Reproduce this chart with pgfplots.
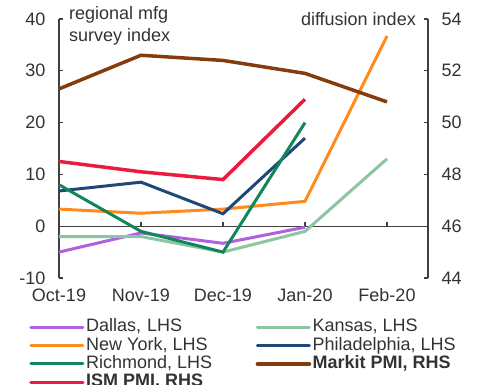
\documentclass[border=0pt]{standalone}
\usepackage{fontspec}
\setmainfont{Liberation Sans}
\usepackage{pgfplots}
\pgfplotsset{compat=1.18}
\definecolor{cDal}{HTML}{B061DD}
\definecolor{cKan}{HTML}{8CC5A2}
\definecolor{cNY}{HTML}{FF8B1C}
\definecolor{cPhi}{HTML}{1E4878}
\definecolor{cRic}{HTML}{10865A}
\definecolor{cMar}{HTML}{843C0C}
\definecolor{cISM}{HTML}{EA1B3C}
\definecolor{axgray}{HTML}{404040}
\definecolor{txt}{HTML}{333333}
\begin{document}
\begin{tikzpicture}
\pgfplotsset{
  common/.style={
    scale only axis, width=369pt, height=259pt,
    xmin=0, xmax=4.5,
    axis line style={axgray, line width=1.3pt},
    tick style={axgray, line width=1.3pt},
    major tick length=4.5pt,
    tick align=inside,
    ticklabel style={font=\fontsize{18}{20}\selectfont, text=txt},
    /pgf/number format/assume math mode=true,
  }
}
\begin{axis}[common, name=ax,
  ymin=-10, ymax=40, ytick={-10,0,10,20,30,40},
  axis y line*=left,
  axis x line*=bottom,
  x axis line style={draw=none},
  xtick={0,1,2,3,4},
  xticklabels={Oct-19,Nov-19,Dec-19,Jan-20,Feb-20},
  major x tick style={draw=none},
  xticklabel style={yshift=-7pt},
  yticklabel style={xshift=-10pt},
  clip=false,
  legend columns=2,
  legend cell align=left,
  legend style={at={(0,0)}, anchor=north west, xshift=-33pt, yshift=-38pt,
    draw=none, fill=none, font=\fontsize{18}{20}\selectfont, text=txt,
    nodes={inner sep=1.5pt, text height=12pt, text depth=3.3pt}, row sep=0pt},
  legend image code/.code={\draw[#1, line cap=round] (0pt,0pt) -- (52pt,0pt);},
]
\draw[axgray, line width=1.3pt] (axis cs:0,0) -- (axis cs:4.5,0);
\draw[axgray, line width=1.3pt] (axis cs:1,0) -- ++(0pt,4.5pt);
\draw[axgray, line width=1.3pt] (axis cs:2,0) -- ++(0pt,4.5pt);
\draw[axgray, line width=1.3pt] (axis cs:3,0) -- ++(0pt,4.5pt);
\draw[axgray, line width=1.3pt] (axis cs:4,0) -- ++(0pt,4.5pt);
\addplot[cDal, line width=3pt] coordinates {(0,-5.0) (1,-1.3) (2,-3.3) (3,-0.2)};
\addlegendentry[text width=168pt]{Dallas, LHS}
\addplot[cKan, line width=3pt] coordinates {(0,-2.0) (1,-2.0) (2,-5.0) (3,-1.0) (4,13.0)};
\addlegendentry{Kansas, LHS}
\addplot[cNY, line width=3pt] coordinates {(0,3.3) (1,2.5) (2,3.3) (3,4.8) (4,36.7)};
\addlegendentry{New York, LHS}
\addplot[cPhi, line width=3pt] coordinates {(0,6.8) (1,8.5) (2,2.4) (3,17.0)};
\addlegendentry{Philadelphia, LHS}
\addplot[cRic, line width=3pt] coordinates {(0,8.0) (1,-1.0) (2,-5.0) (3,20.0)};
\addlegendentry{Richmond, LHS}
\addlegendimage{cMar, line width=3.5pt}
\addlegendentry{\textbf{Markit PMI, RHS}}
\addlegendimage{cISM, line width=3.5pt}
\addlegendentry{\textbf{ISM PMI, RHS}}
\node[anchor=base west, font=\fontsize{18}{22}\selectfont, text=txt, inner sep=0pt]
  at ([xshift=10pt, yshift=0pt]rel axis cs:0,1) {regional mfg};
\node[anchor=base west, font=\fontsize{18}{22}\selectfont, text=txt, inner sep=0pt]
  at ([xshift=10pt, yshift=-22pt]rel axis cs:0,1) {survey index};
\node[anchor=base east, font=\fontsize{18}{20}\selectfont, text=txt, inner sep=0pt]
  at ([xshift=-12pt, yshift=-6pt]rel axis cs:1,1) {diffusion index};
\end{axis}
\begin{axis}[common,
  ymin=44, ymax=54, ytick={44,46,48,50,52,54},
  axis y line*=right, axis x line=none,
  yticklabel style={xshift=10pt},
]
\addplot[cMar, line width=3.5pt] coordinates {(0,51.3) (1,52.6) (2,52.4) (3,51.9) (4,50.8)};
\addplot[cISM, line width=3.5pt] coordinates {(0,48.5) (1,48.1) (2,47.8) (3,50.9)};
\end{axis}
\pgfresetboundingbox
\useasboundingbox ([xshift=-59pt,yshift=-107pt]ax.south west) rectangle ([xshift=51pt,yshift=19pt]ax.north east);
\end{tikzpicture}
\end{document}
